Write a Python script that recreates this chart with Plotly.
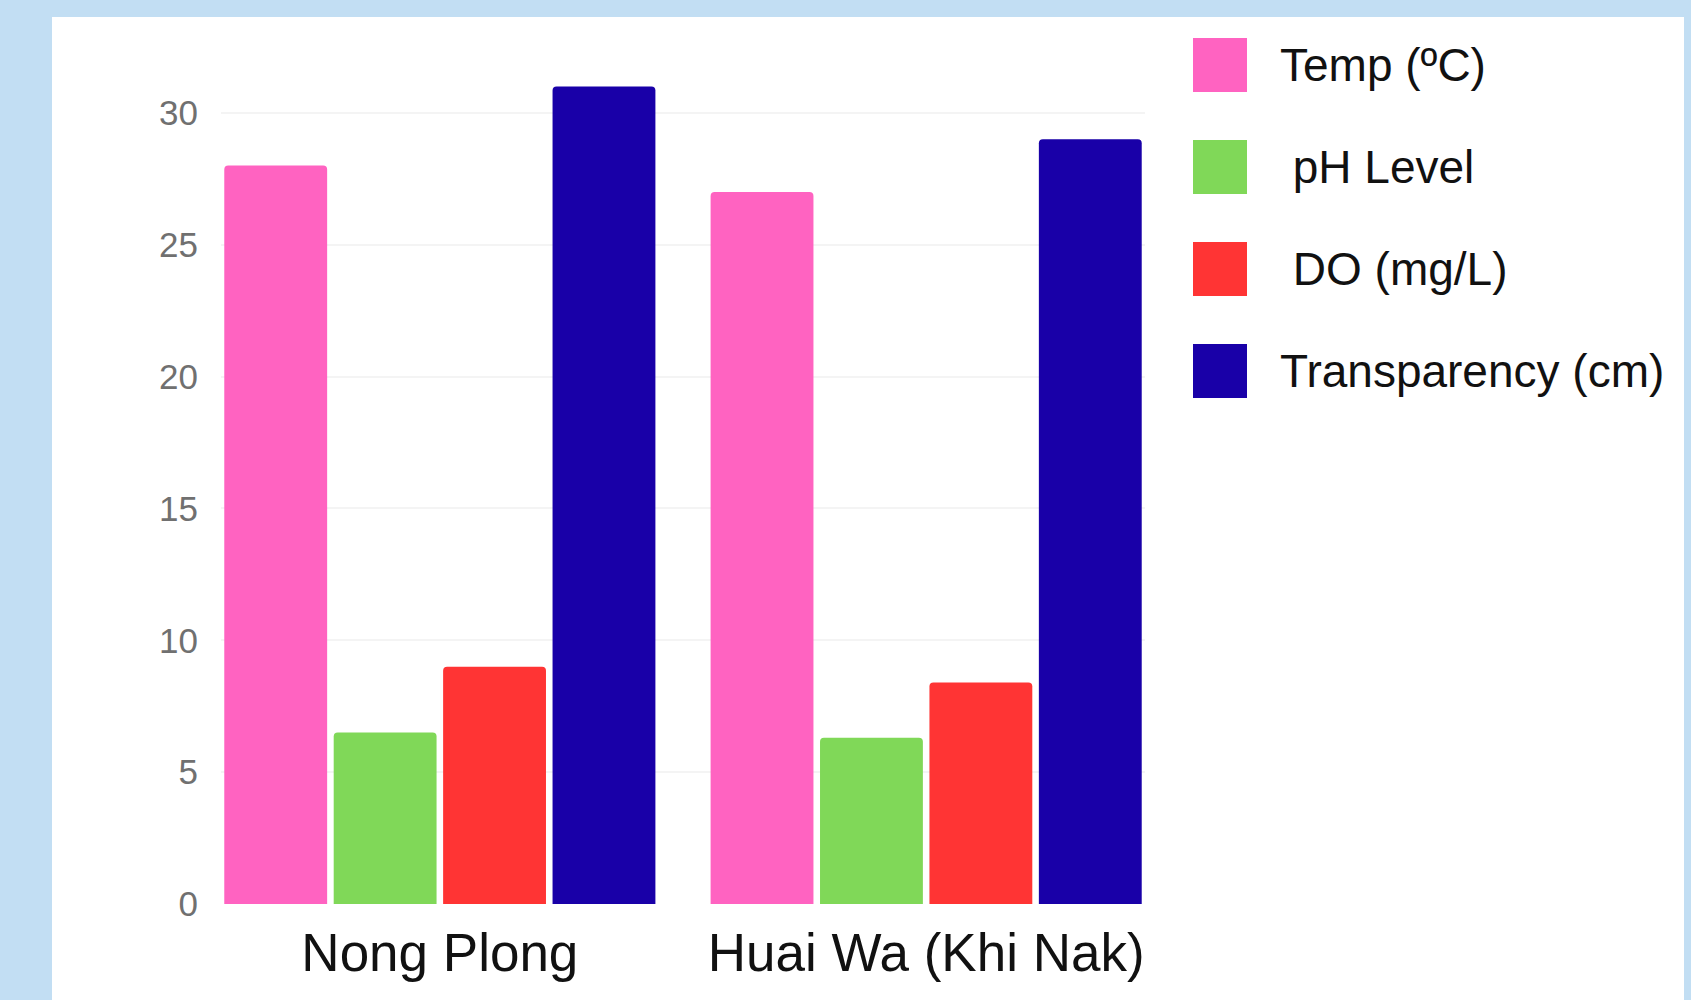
import plotly.graph_objects as go

# ---- data ----
sites = ["Nong Plong", "Huai Wa (Khi Nak)"]
series_names = ["Temp (ºC)", " pH Level", " DO (mg/L)", "Transparency (cm)"]
temp = [28, 27]
ph = [6.5, 6.3]
do = [9, 8.4]
transparency = [31, 29]
series_values = [temp, ph, do, transparency]
series_colors = ["#FF63C1", "#80D858", "#FF3434", "#1900A8"]
y_ticks = [0, 5, 10, 15, 20, 25, 30]

FONT = "Arial"

# ---- layout geometry (pixels) ----
W, H = 1691, 1000
L, R, T, B = 221, 546, 60, 96
PW, PH = W - L - R, H - T - B


def px2x(px):
    return (px - L) / PW


def py2y(py):
    return (H - B - py) / PH


fig = go.Figure()
for name, vals, col in zip(series_names, series_values, series_colors):
    fig.add_trace(go.Bar(
        x=sites, y=vals, name=name.strip(),
        marker=dict(color=col, cornerradius=4, line=dict(width=0)),
        showlegend=False,
    ))

# white panel
shapes = [dict(type="rect", xref="paper", yref="paper",
               x0=px2x(52), x1=px2x(1684), y0=py2y(1010), y1=py2y(17),
               fillcolor="white", line=dict(width=0), layer="below")]
annotations = []
# manual legend (large swatches)
for i, (name, col) in enumerate(zip(series_names, series_colors)):
    cy = 65 + i * 102
    shapes.append(dict(type="rect", xref="paper", yref="paper",
                       x0=px2x(1193), x1=px2x(1247), y0=py2y(cy + 27), y1=py2y(cy - 27),
                       fillcolor=col, line=dict(width=0), layer="above"))
    annotations.append(dict(xref="paper", yref="paper", x=px2x(1278), y=py2y(cy),
                            xanchor="left", yanchor="middle", showarrow=False,
                            text=name.replace(" ", "\u00a0"),
                            font=dict(family=FONT, size=46, color="#111111")))

fig.update_layout(
    width=W, height=H,
    margin=dict(l=L, r=R, t=T, b=B, pad=0),
    paper_bgcolor="#C2DEF3",
    plot_bgcolor="white",
    barmode="group",
    bargap=0.1,
    bargroupgap=0.06,
    showlegend=False,
    shapes=shapes,
    annotations=annotations,
    xaxis=dict(range=[-0.45, 1.45], showgrid=False, zeroline=False, showline=False,
               ticks="", tickfont=dict(family=FONT, size=53, color="#111111"),
               ticklabelstandoff=13),
    yaxis=dict(range=[0, 32], tickvals=y_ticks, showgrid=True, gridcolor="#F4F4F4", gridwidth=2,
               zeroline=False, showline=False, ticks="",
               tickfont=dict(family=FONT, size=35, color="#707070"),
               ticklabelstandoff=22),
)

fig.write_html("out.html")
